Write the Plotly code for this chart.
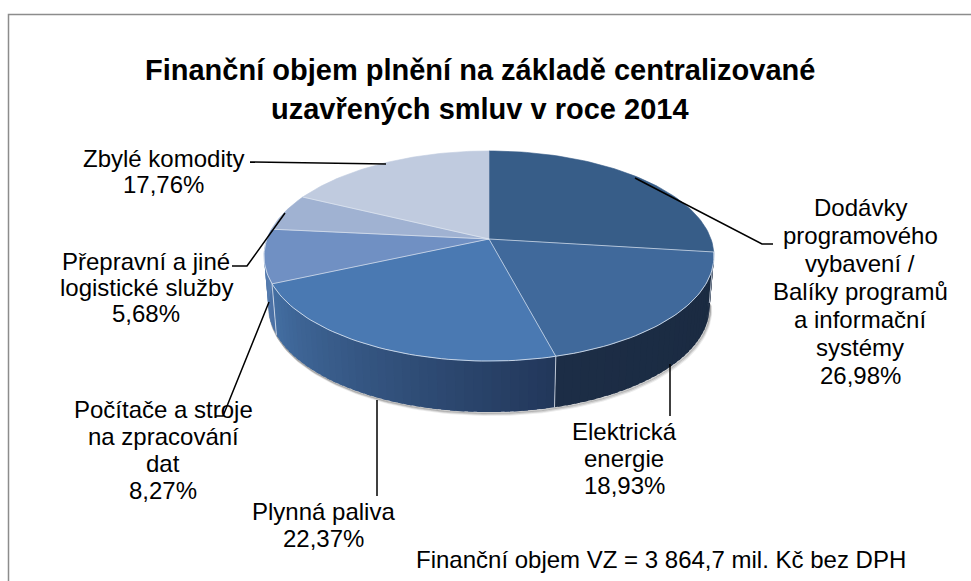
import math
import plotly.graph_objects as go

categories = ["Dodávky programového vybavení / Balíky programů a informační systémy",
              "Elektrická energie", "Plynná paliva",
              "Počítače a stroje na zpracování dat",
              "Přepravní a jiné logistické služby", "Zbylé komodity"]
values = [26.98, 18.93, 22.37, 8.27, 5.68, 17.76]
top_colors = ["#375d88", "#40699b", "#4a79b2", "#7090c3", "#a0b2d2", "#c0cbdf"]
rim_left = ["#1e3049", "#1c2d46", "#446fa3", "#5a80b2", "#7090c3", "#a0b2d2"]
rim_right = ["#1e3049", "#1a2a40", "#22375a", "#4a70a4", "#7090c3", "#a0b2d2"]

label_lines = [
    ["Dodávky", "programového", "vybavení /", "Balíky programů", "a informační", "systémy", "26,98%"],
    ["Elektrická", "energie", "18,93%"],
    ["Plynná paliva", "22,37%"],
    ["Počítače a stroje", "na zpracování", "dat", "8,27%"],
    ["Přepravní a jiné", "logistické služby", "5,68%"],
    ["Zbylé komodity", "17,76%"],
]
label_x = [860, 624, 323, 163, 146, 163]
label_y = [207, 431, 511, 409, 261, 158]
label_step = [28, 27, 27, 27.3, 26, 26]
leaders = [
    [(635, 178), (762, 244), (773, 244)],
    [(670, 364), (670, 416)],
    [(377, 400), (377, 496)],
    [(269, 302), (223, 416), (215, 416)],
    [(285, 213), (247, 266), (232, 266)],
    [(386, 164), (250, 162)],
]
title_lines = ["Finanční objem plnění na základě centralizované", "uzavřených smluv v roce 2014"]
note = "Finanční objem VZ = 3 864,7 mil. Kč bez DPH"

FONT = "Liberation Sans, Arial, sans-serif"
CX, AY, A, B, K, DEPTH = 489, 239, 222, 102.3, 0.162, 51


def project(theta, bottom=False):
    X, Y = math.sin(theta), math.cos(theta)
    w = 1 + K * Y
    scale = 0.98 if bottom else 1.0
    return CX + scale * A * X / w, AY - B * Y / w + (DEPTH if bottom else 0)


def hex2rgb(h):
    return tuple(int(h[i:i + 2], 16) for i in (1, 3, 5))


def mix(c1, c2, t):
    a, b = hex2rgb(c1), hex2rgb(c2)
    return "rgb(%d,%d,%d)" % tuple(round(a[i] + (b[i] - a[i]) * t) for i in range(3))


total = sum(values)
edges = [0.0]
for v in values:
    edges.append(edges[-1] + v / total * 2 * math.pi)

fig = go.Figure()


def poly(xs, ys, fill, width=0.6):
    fig.add_trace(go.Scatter(x=xs, y=ys, mode="lines", fill="toself", fillcolor=fill,
                             line=dict(color=fill, width=width),
                             hoverinfo="skip", showlegend=False))


def arc(t0, t1, n, bottom=False):
    return [project(t0 + (t1 - t0) * i / n, bottom) for i in range(n + 1)]


# soft shadow under the rim
vis0, vis1 = math.radians(97), math.radians(272)
for off, col in [(3, "rgba(0,0,0,0.07)"), (2, "rgba(0,0,0,0.12)"), (1, "rgba(0,0,0,0.2)")]:
    pts = arc(vis0, vis1, 120, True)
    fig.add_trace(go.Scatter(x=[p[0] + off * 0.6 for p in pts], y=[p[1] + off for p in pts], mode="lines",
                             line=dict(color=col, width=2), hoverinfo="skip", showlegend=False))

# rim: visible front part, shaded strip by strip
for s in range(len(values)):
    t0, t1 = max(edges[s], vis0), min(edges[s + 1], vis1)
    if t1 <= t0:
        continue
    n = max(2, int((t1 - t0) / math.radians(2)))
    # slices are painted so that neighbouring strips overlap, which hides seams
    for i in range(n):
        a0, a1 = t0 + (t1 - t0) * i / n, min(t1, t0 + (t1 - t0) * (i + 1.6) / n)
        p0, p1, q1, q0 = project(a0), project(a1), project(a1, True), project(a0, True)
        t = 1 - (i + 0.5) / n
        poly([p0[0], p1[0], q1[0], q0[0], p0[0]], [p0[1], p1[1], q1[1], q0[1], p0[1]],
             mix(rim_left[s], rim_right[s], t), width=0)
for e in edges:
    if vis0 < e < vis1:
        p, q = project(e), project(e, True)
        fig.add_trace(go.Scatter(x=[p[0], q[0]], y=[p[1], q[1]], mode="lines",
                                 line=dict(color="rgba(225,232,242,0.75)", width=1),
                                 hoverinfo="skip", showlegend=False))

# top face wedges
for s in range(len(values)):
    pts = arc(edges[s], edges[s + 1], 60)
    xs = [CX] + [p[0] for p in pts] + [CX]
    ys = [AY] + [p[1] for p in pts] + [AY]
    poly(xs, ys, top_colors[s])
for s in range(len(values)):
    p = project(edges[s])
    if s > 0:
        fig.add_trace(go.Scatter(x=[CX, p[0]], y=[AY, p[1]], mode="lines",
                                 line=dict(color="rgba(225,232,242,0.7)", width=1),
                                 hoverinfo="skip", showlegend=False))
pts = arc(vis0, vis1, 120)
fig.add_trace(go.Scatter(x=[p[0] for p in pts], y=[p[1] for p in pts], mode="lines",
                         line=dict(color="rgba(225,232,242,0.8)", width=1),
                         hoverinfo="skip", showlegend=False))

# leader lines
for pts in leaders:
    fig.add_trace(go.Scatter(x=[p[0] for p in pts], y=[p[1] for p in pts], mode="lines",
                             line=dict(color="#000000", width=1.5),
                             hoverinfo="skip", showlegend=False))

ann = []


def text(x, y, s, size=24, bold=False, anchor="center"):
    ann.append(dict(x=x, y=y, xref="x", yref="y", text="<b>%s</b>" % s if bold else s,
                    showarrow=False, xanchor=anchor, yanchor="middle",
                    font=dict(family=FONT, size=size, color="#000000")))


for lines, x, y, st in zip(label_lines, label_x, label_y, label_step):
    for i, l in enumerate(lines):
        text(x, y + i * st, l)
text(480, 70, title_lines[0], size=29, bold=True)
text(480, 109, title_lines[1], size=29, bold=True)
text(414, 559, note, anchor="left")

fig.update_layout(
    width=971, height=581, margin=dict(l=0, r=0, t=0, b=0),
    paper_bgcolor="#ffffff", plot_bgcolor="#ffffff", showlegend=False,
    xaxis=dict(range=[0, 971], visible=False, fixedrange=True),
    yaxis=dict(range=[581, 0], visible=False, fixedrange=True),
    annotations=ann,
    shapes=[dict(type="path", xref="x", yref="y", path="M 8.5 581 L 8.5 14.5 L 971 14.5",
                 line=dict(color="#8c8c8c", width=1.5))],
)
fig.write_html("out.html", config=dict(displayModeBar=False),
               post_script="document.body.style.margin='0';")
